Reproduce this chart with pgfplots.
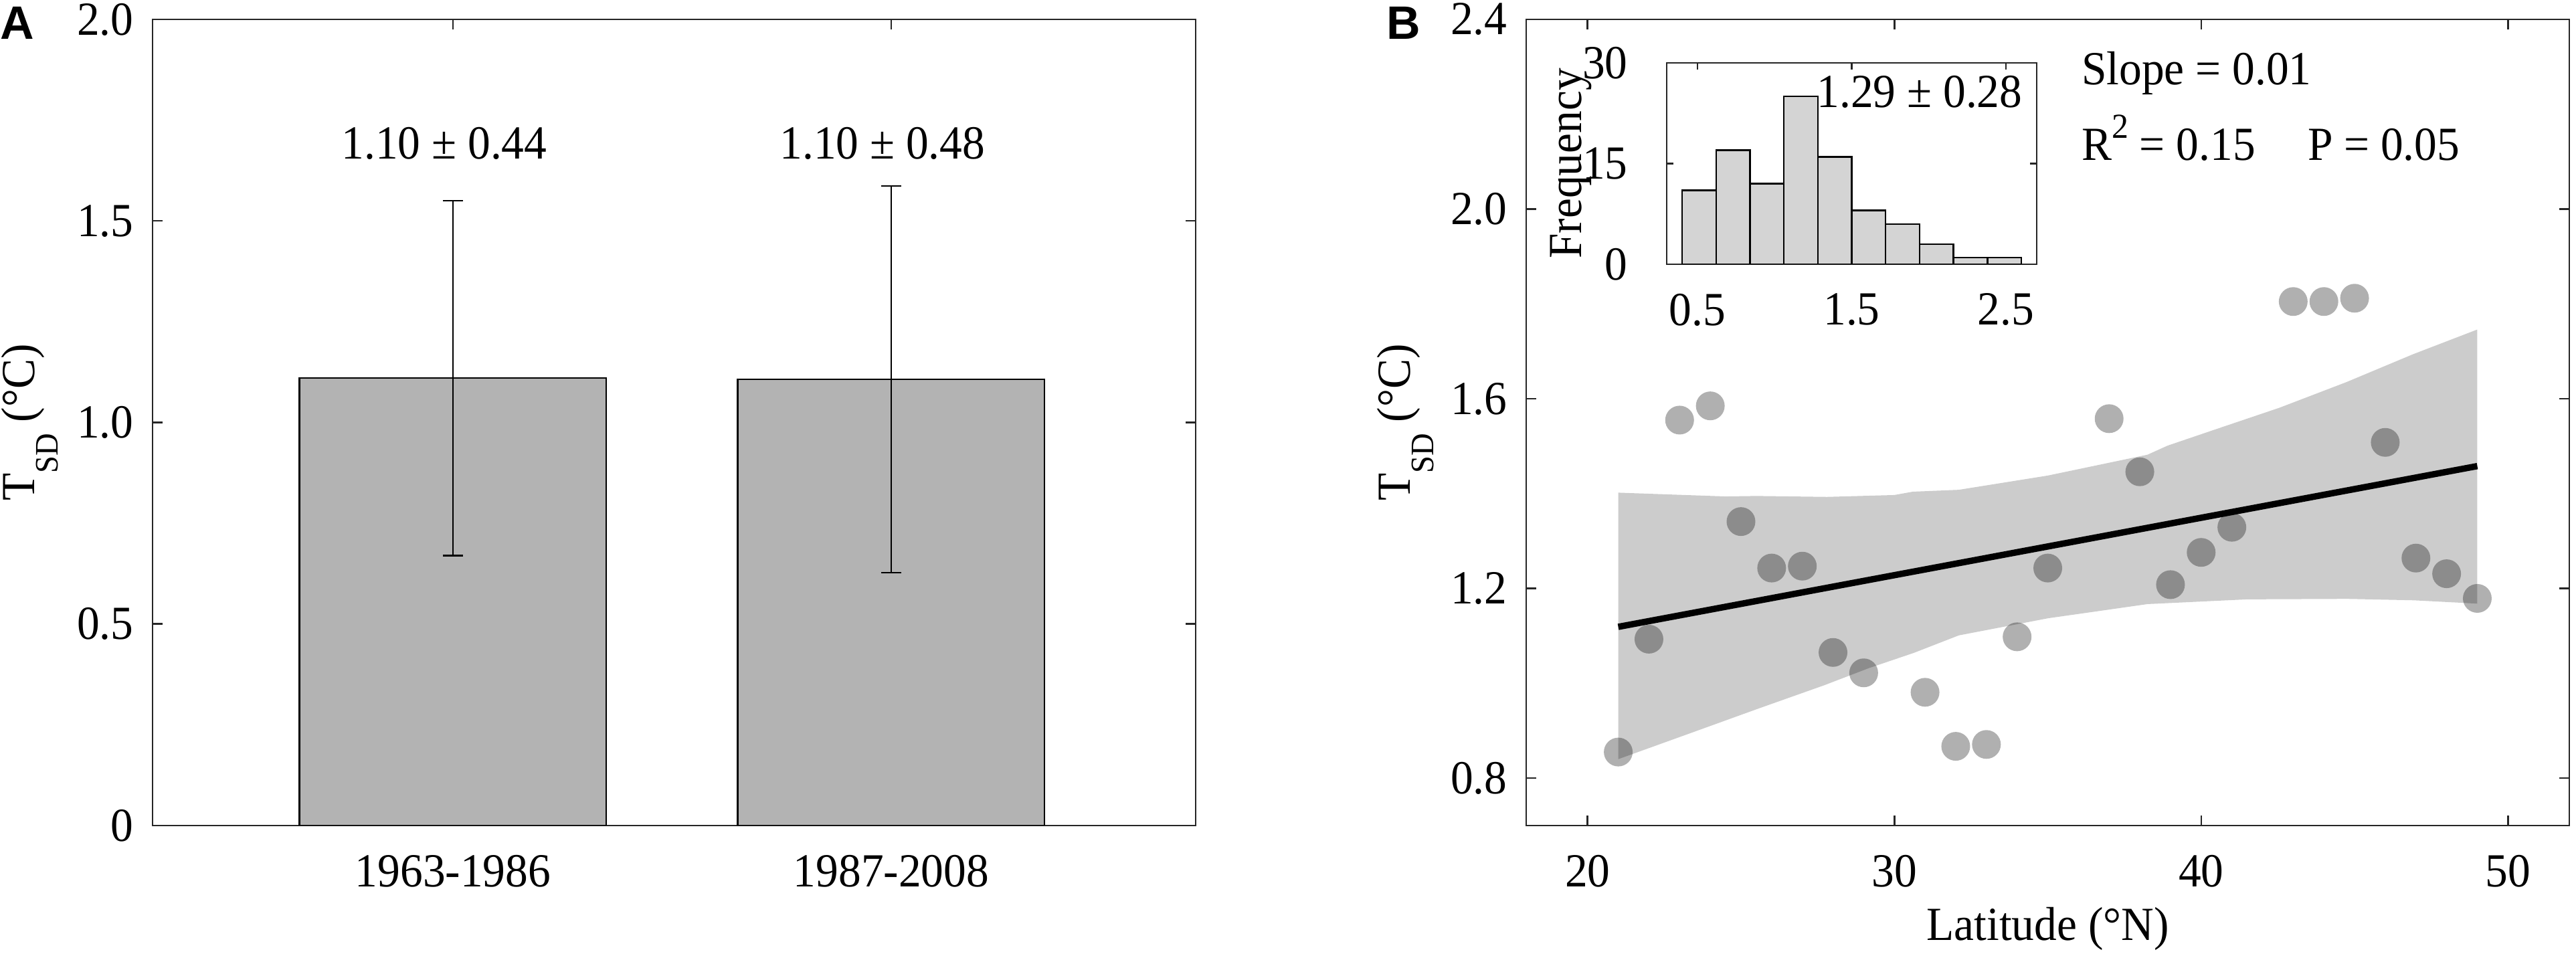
\documentclass[border=0pt]{standalone}
\usepackage{fontspec}
\setmainfont{Liberation Serif}[FakeStretch=0.95]
\newfontfamily\arialfont{Liberation Sans}
\usepackage{pgfplots}
\pgfplotsset{compat=1.18}
\definecolor{barA}{RGB}{179,179,179}
\definecolor{histc}{RGB}{212,212,212}
\definecolor{bandc}{RGB}{204,204,204}
\definecolor{axc}{RGB}{38,38,38}
\newcommand{\tsd}{T\raisebox{-7pt}{\fontsize{9.8}{9.8}\selectfont SD} (°C)}
\pgfplotsset{
  myax/.style={
    scale only axis,
    font=\fontsize{14.2}{16}\selectfont,
    /pgf/number format/assume math mode=true,
    axis line style={axc, line width=0.5pt},
    every tick/.style={axc, line width=0.5pt},
    major tick length=3pt,
    tick align=inside,
    xtick pos=both, ytick pos=both,
    xticklabel style={anchor=center, yshift=-13.6pt},
    yticklabel style={anchor=east, inner sep=0pt, xshift=-5.5pt},
  }
}
\begin{document}
\begin{tikzpicture}
\path[use as bounding box] (0,0) rectangle (770pt,285.8pt);

% Panel A
\begin{axis}[myax, at={(45.6pt,39pt)}, anchor=south west,
  width=311.8pt, height=241pt,
  xmin=0.3145, xmax=2.6947, ymin=0, ymax=2,
  xtick={1,2}, xticklabels={1963-1986,1987-2008},
  ytick={0,0.5,1,1.5,2}, yticklabels={0,0.5,1.0,1.5,2.0},
  ylabel={\tsd},
  ylabel style={at={(axis description cs:-0.0898,0.5)}, anchor=south, inner sep=0pt},
]
\addplot[ybar, bar width=0.7, bar shift=0pt, fill=barA, draw=black, line width=0.5pt,
  error bars/.cd, y dir=both, y explicit,
  error bar style={black, line width=0.5pt},
  error mark options={rotate=90, mark size=3pt, black, line width=0.5pt}]
  coordinates {(1,1.110) +- (0,0.44) (2,1.107) +- (0,0.48)};
\node[inner sep=0pt] at (axis cs:0.98,1.693) {1.10 ± 0.44};
\node[inner sep=0pt] at (axis cs:1.98,1.693) {1.10 ± 0.48};
\end{axis}

% Panel B
\begin{axis}[myax, at={(456.2pt,39pt)}, anchor=south west,
  width=311.8pt, height=241pt,
  xmin=18, xmax=52, ymin=0.7, ymax=2.4,
  xtick={20,30,40,50},
  ytick={0.8,1.2,1.6,2.0,2.4}, yticklabels={0.8,1.2,1.6,2.0,2.4},
  xlabel={Latitude (°N)},
  xlabel style={at={(axis description cs:0.5,-0.1285)}, anchor=center, inner sep=0pt},
  ylabel={\tsd},
  ylabel style={at={(axis description cs:-0.088,0.5)}, anchor=south, inner sep=0pt},
]
% confidence band: upper edge left to right, then lower edge right to left
\addplot[fill=bandc, draw=none] coordinates {
  (21,1.402) (22.3,1.399) (24.5,1.394) (25.5,1.395) (27.8,1.393) (30,1.397)
  (30.6,1.404) (32.1,1.408) (35,1.438) (38.25,1.482) (38.9,1.501) (40.4,1.534)
  (42.55,1.581) (44.73,1.635) (46.91,1.694) (49,1.746)
  (49,1.168) (46.93,1.175) (44.76,1.178) (41.5,1.177) (38.25,1.167) (35,1.137)
  (32.1,1.101) (30.63,1.064) (29.17,1.032) (27.72,0.996) (25.54,0.946) (23.36,0.895) (21,0.840)
} -- cycle;
\addplot[only marks, mark=*, mark size=4.3pt,
  mark options={fill=black, draw=black, fill opacity=0.31, draw opacity=0}]
  coordinates {
  (21,0.855) (22,1.093) (23,1.555) (24,1.585) (25,1.341) (26,1.243) (27,1.247)
  (28,1.065) (29,1.022) (31,0.981) (32,0.867) (33,0.871) (34,1.098) (35,1.243)
  (37,1.558) (38,1.446) (39,1.208) (40,1.276) (41,1.329) (43,1.805) (44,1.805)
  (45,1.812) (46,1.508) (47,1.264) (48,1.231) (49,1.179)
};
\addplot[black, line width=1.9pt] coordinates {(21,1.119) (49,1.458)};
\node[anchor=base west, inner sep=0pt] at (axis cs:36.08,2.262) {Slope = 0.01};
\node[anchor=base west, inner sep=0pt] at (axis cs:36.08,2.103) {R\raisebox{6.6pt}{\fontsize{10.5}{10.5}\selectfont 2} = 0.15};
\node[anchor=base west, inner sep=0pt] at (axis cs:43.45,2.103) {P = 0.05};
\end{axis}

% Inset histogram
\begin{axis}[myax, at={(498.2pt,206.8pt)}, anchor=south west,
  width=110.6pt, height=60.2pt,
  xmin=0.3, xmax=2.7, ymin=0, ymax=30,
  xtick={0.5,1.5,2.5}, ytick={0,15,30},
  major tick length=2pt,
  axis background/.style={fill=white},
  yticklabel style={anchor=east, inner sep=0pt, xshift=-6pt},
  ylabel={Frequency},
  ylabel style={at={(axis description cs:-0.258,0.5)}, anchor=center, inner sep=0pt},
]
\addplot[ybar, bar width=0.22, bar shift=0pt, fill=histc, draw=black, line width=0.5pt]
  coordinates {(0.51,11) (0.73,17) (0.95,12) (1.17,25) (1.39,16) (1.61,8) (1.83,6) (2.05,3) (2.27,1) (2.49,1)};
\node[anchor=east, inner sep=0pt] at (axis cs:2.61,25.7) {1.29 ± 0.28};
\end{axis}

\node[anchor=north west, inner sep=0pt, font=\arialfont\bfseries\fontsize{14}{14}\selectfont] at (0pt,284pt) {A};
\node[anchor=north west, inner sep=0pt, font=\arialfont\bfseries\fontsize{14}{14}\selectfont] at (414.2pt,284pt) {B};
\end{tikzpicture}
\end{document}
